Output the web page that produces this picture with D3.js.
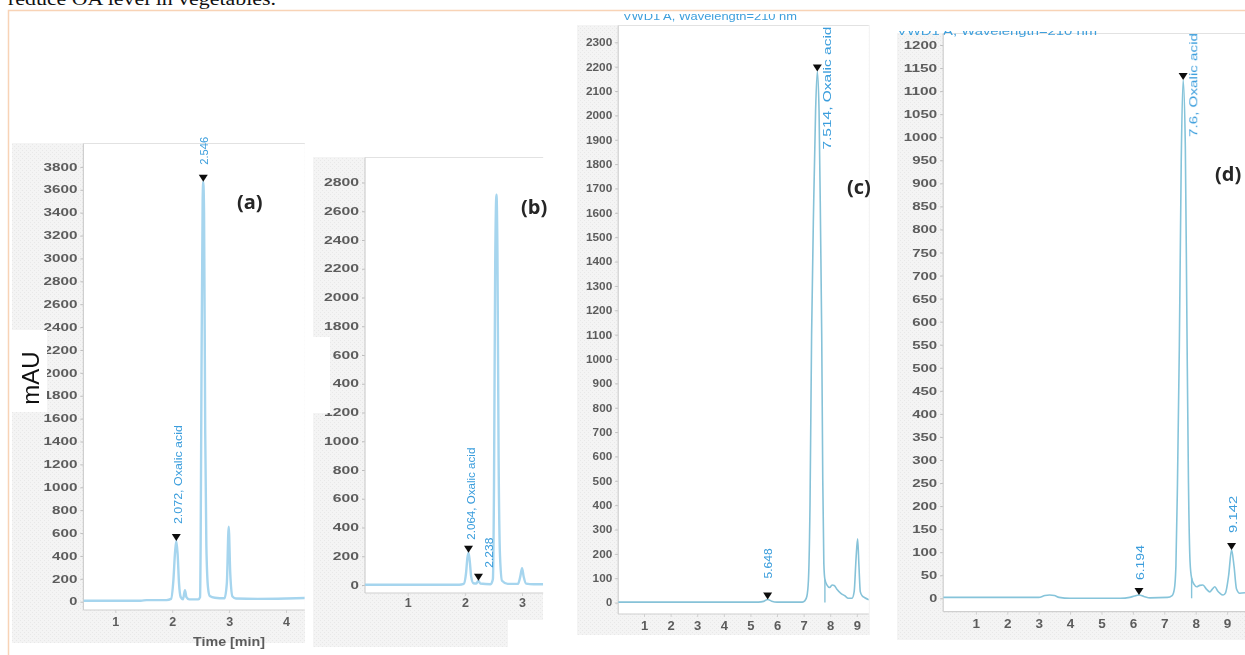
<!DOCTYPE html>
<html>
<head>
<meta charset="utf-8">
<script src="https://cdn.jsdelivr.net/npm/d3@7"></script>
<style>
  html, body { margin: 0; padding: 0; background: #fff; }
  svg { display: block; }
</style>
</head>
<body>
<svg id="fig" width="1245" height="655"></svg>
<script>
// ---------- Chromatogram traces: [retention time (min), absorbance (mAU)] ----------
const traceA = [
  [0.44, 8], [1.0, 8], [1.45, 8], [1.55, 14], [1.9, 14], [1.98, 25], [2.02, 180], [2.05, 430],
  [2.072, 530], [2.095, 420], [2.12, 160], [2.15, 40], [2.19, 22], [2.225, 100], [2.25, 40],
  [2.3, 20], [2.46, 20], [2.49, 40], [2.50, 500], [2.515, 2000], [2.535, 3500], [2.546, 3670],
  [2.56, 3400], [2.58, 1500], [2.6, 500], [2.63, 120], [2.66, 50], [2.75, 35], [2.92, 30],
  [2.96, 160], [2.993, 655], [3.02, 250], [3.06, 45], [3.12, 28], [3.5, 25], [4.0, 28], [4.33, 32]
];
const traceB = [
  [0.254, 2], [1.9, 2], [1.98, 8], [2.02, 80], [2.045, 190], [2.064, 225], [2.085, 170],
  [2.11, 60], [2.15, 12], [2.2, 10], [2.238, 30], [2.27, 10], [2.45, 5], [2.49, 40],
  [2.51, 700], [2.53, 2200], [2.553, 2715], [2.57, 2300], [2.59, 900], [2.615, 200],
  [2.65, 30], [2.75, 8], [2.93, 8], [2.97, 60], [3.0, 117], [3.03, 55], [3.07, 10],
  [3.2, 5], [3.37, 5]
];
const traceC = [
  [0.03, 2], [2.0, 2], [5.3, 2], [5.5, 5], [5.648, 13], [5.8, 6], [6.0, 2], [6.95, 2],
  [7.05, 8], [7.12, 25], [7.18, 90], [7.24, 400], [7.3, 1100], [7.38, 1650], [7.45, 2020],
  [7.514, 2180], [7.58, 2020], [7.64, 1500], [7.68, 1100], [7.72, 500], [7.76, 160],
  [7.8, 95], [7.88, 72], [7.98, 62], [8.07, 72], [8.15, 70], [8.25, 55], [8.4, 38],
  [8.55, 28], [8.68, 18], [8.82, 18], [8.9, 45], [8.97, 180], [9.03, 262], [9.08, 150],
  [9.13, 45], [9.2, 28], [9.3, 20], [9.45, 12]
];
const traceD = [
  [-0.04, 2], [1.0, 2], [3.0, 2], [3.2, 6], [3.35, 7], [3.5, 6], [3.65, 2], [4.0, 0],
  [5.6, 0], [5.9, 2], [6.05, 5], [6.194, 7], [6.35, 4], [6.55, 1], [7.1, 2], [7.25, 6],
  [7.32, 20], [7.37, 70], [7.42, 250], [7.48, 550], [7.54, 950], [7.6, 1124], [7.67, 980],
  [7.72, 600], [7.77, 250], [7.82, 80], [7.87, 44], [7.95, 30], [8.03, 25], [8.13, 28],
  [8.23, 29], [8.34, 20], [8.45, 14], [8.53, 20], [8.61, 25], [8.7, 16], [8.77, 11],
  [8.87, 7], [8.95, 12], [9.05, 50], [9.142, 105], [9.22, 70], [9.3, 20], [9.4, 11],
  [9.57, 12]
];

// ---------- Integrated peaks (retention time and annotation) ----------
const peaksA = [{ t: 2.072, text: "2.072, Oxalic acid" }, { t: 2.546, text: "2.546" }];
const peaksB = [{ t: 2.064, text: "2.064, Oxalic acid" }, { t: 2.238, text: "2.238" }];
const peaksC = [{ t: 5.648, text: "5.648" }, { t: 7.514, text: "7.514, Oxalic acid" }];
const peaksD = [{ t: 6.194, text: "6.194" }, { t: 7.6, text: "7.6, Oxalic acid" }, { t: 9.142, text: "9.142" }];

// Integration drop lines (min)
const dropsC = [7.8];
const dropsD = [7.87];

// ---------- Axis ticks ----------
const yTicksA = [0, 200, 400, 600, 800, 1000, 1200, 1400, 1600, 1800, 2000, 2200, 2400, 2600, 2800, 3000, 3200, 3400, 3600, 3800];
const yTicksB = [0, 200, 400, 600, 800, 1000, 1200, 1400, 1600, 1800, 2000, 2200, 2400, 2600, 2800];
const yTickLabelsB = ["0", "200", "400", "600", "800", "1000", "1200", "400", "600", "1800", "2000", "2200", "2400", "2600", "2800"];
const yTicksC = [0, 100, 200, 300, 400, 500, 600, 700, 800, 900, 1000, 1100, 1200, 1300, 1400, 1500, 1600, 1700, 1800, 1900, 2000, 2100, 2200, 2300];
const yTicksD = [0, 50, 100, 150, 200, 250, 300, 350, 400, 450, 500, 550, 600, 650, 700, 750, 800, 850, 900, 950, 1000, 1050, 1100, 1150, 1200];
const xTicksA = [1, 2, 3, 4];
const xTicksB = [1, 2, 3];
const xTicksC = [1, 2, 3, 4, 5, 6, 7, 8, 9];
const xTicksD = [1, 2, 3, 4, 5, 6, 7, 8, 9];

const panelNames = ["(a)", "(b)", "(c)", "(d)"];
const yAxisTitle = "mAU";
const xAxisTitleA = "Time [min]";
const signalTitle = "VWD1 A, Wavelength=210 nm";
const captionTail = "reduce OA level in vegetables.";

// ---------- Drawing ----------
const svg = d3.select("#fig");
const defs = svg.append("defs");
defs.append("filter").attr("id", "soft")
  .attr("x", "-5%").attr("y", "-5%").attr("width", "110%").attr("height", "110%")
  .append("feGaussianBlur").attr("stdDeviation", 0.45);

const pat = defs.append("pattern").attr("id", "hatch")
  .attr("width", 4).attr("height", 4).attr("patternUnits", "userSpaceOnUse");
pat.append("rect").attr("width", 4).attr("height", 4).attr("fill", "#f4f4f4");
pat.append("rect").attr("x", 0).attr("y", 0).attr("width", 1).attr("height", 1).attr("fill", "#e8e8e8");
pat.append("rect").attr("x", 2).attr("y", 2).attr("width", 1).attr("height", 1).attr("fill", "#e8e8e8");

// Page frame and the running text above the figure
svg.append("text").attr("x", 8).attr("y", 5)
  .attr("font-family", "Liberation Serif, serif").attr("font-size", 18)
  .attr("textLength", 268).attr("lengthAdjust", "spacingAndGlyphs")
  .attr("fill", "#111").text(captionTail);
svg.append("path").attr("d", "M8.5,655 L8.5,10.5 L1245,10.5")
  .attr("fill", "none").attr("stroke", "#f8d3b6").attr("stroke-width", 1.5);

const panels = [
  {
    trace: traceA, peaks: peaksA, drops: [], yTicks: yTicksA, yLabels: null, xTicks: xTicksA,
    xDom: [0.44, 4.33], xRng: [83.4, 304.8], yDom: [0, 3800], yRng: [601.7, 166.9],
    top: 143.5, axisY: 610, bg: [[12, 143, 293, 500]], covers: [[12, 330, 35, 82]],
    lineColor: "#a6d5ee", lineWidth: 2.4, yFont: 10, yCharW: 8.6, xFont: 12.5, xLabelY: 626,
    labelFont: 10.5,
    labelLayout: [{ dx: 2, gap: 10, len: 99 }, { dx: 0.7, gap: 10, len: 28 }],
    name: { x: 237, y: 209 }
  },
  {
    trace: traceB, peaks: peaksB, drops: [], yTicks: yTicksB, yLabels: yTickLabelsB, xTicks: xTicksB,
    xDom: [0.254, 3.37], xRng: [365, 543.2], yDom: [0, 2800], yRng: [585, 182.5],
    top: 157.5, axisY: 593, bg: [[313, 157, 230, 463], [313, 618, 195, 29]], covers: [[306, 337, 24, 76]],
    lineColor: "#a6d5ee", lineWidth: 2.4, yFont: 10, yCharW: 8.9, xFont: 12.5, xLabelY: 607,
    labelFont: 10,
    labelLayout: [{ dx: 2.5, gap: 6, len: 92 }, { dx: 11, gap: 6, len: 30 }],
    name: { x: 521, y: 214 }
  },
  {
    trace: traceC, peaks: peaksC, drops: dropsC, yTicks: yTicksC, yLabels: null, xTicks: xTicksC,
    xDom: [0.03, 9.45], xRng: [618.2, 868.8], yDom: [0, 2300], yRng: [602.6, 42.3],
    top: 25.5, axisY: 614, bg: [[577, 25, 293, 610]], covers: [],
    lineColor: "#86c2d8", lineWidth: 1.6, yFont: 10.5, yCharW: 6.7, xFont: 13, xLabelY: 630,
    labelFont: 11.5,
    labelLayout: [{ dx: 0.7, gap: 14, len: 30 }, { dx: 9.4, gap: -85, len: 123 }],
    name: { x: 847, y: 194 },
    title: { x: 623, y: 19.5, clip: [600, 14, 270, 10], len: 174 }
  },
  {
    trace: traceD, peaks: peaksD, drops: dropsD, yTicks: yTicksD, yLabels: null, xTicks: xTicksD,
    xDom: [-0.04, 9.57], xRng: [943.2, 1245], yDom: [0, 1200], yRng: [598.3, 45],
    top: 33.5, axisY: 611.7, bg: [[897, 33, 348, 607]], covers: [],
    lineColor: "#86c4da", lineWidth: 1.6, yFont: 11, yCharW: 8.5, xFont: 13.5, xLabelY: 628,
    labelFont: 11.5,
    labelLayout: [{ dx: 1, gap: 8, len: 35 }, { dx: 10, gap: -64, len: 104 }, { dx: 1.7, gap: 10, len: 37 }],
    name: { x: 1215, y: 181 },
    title: { x: 897, y: 35, clip: [897, 31, 348, 6], len: 200 }
  }
];

panels.forEach((p, i) => {
  const x = d3.scaleLinear().domain(p.xDom).range(p.xRng);
  const y = d3.scaleLinear().domain(p.yDom).range(p.yRng);
  const left = p.xRng[0], right = p.xRng[1];

  const g = svg.append("g").attr("class", "panel");

  // grey software frame around the plotting area
  p.bg.forEach(r => g.append("rect").attr("x", r[0]).attr("y", r[1])
    .attr("width", r[2]).attr("height", r[3]).attr("fill", "url(#hatch)"));
  g.append("rect").attr("x", left).attr("y", p.top)
    .attr("width", right - left).attr("height", p.axisY - p.top).attr("fill", "#ffffff");
  g.append("line").attr("x1", left).attr("x2", right).attr("y1", p.top).attr("y2", p.top)
    .attr("stroke", "#e2e2e2").attr("stroke-width", 1);

  // signal title above the plot, trimmed by the frame
  if (p.title) {
    const cid = "tclip" + i;
    defs.append("clipPath").attr("id", cid).append("rect")
      .attr("x", p.title.clip[0]).attr("y", p.title.clip[1])
      .attr("width", p.title.clip[2]).attr("height", p.title.clip[3]);
    g.append("text").attr("clip-path", `url(#${cid})`)
      .attr("x", p.title.x).attr("y", p.title.y)
      .attr("font-family", "Liberation Sans, Arial, sans-serif").attr("font-size", 11)
      .attr("textLength", p.title.len).attr("lengthAdjust", "spacingAndGlyphs")
      .attr("fill", "#3d9fdc").text(signalTitle);
  }

  const soft = g.append("g").attr("filter", "url(#soft)");

  // axes
  const yAxis = d3.axisLeft(y).tickValues(p.yTicks).tickSize(3).tickPadding(3)
    .tickFormat((d, k) => p.yLabels ? p.yLabels[k] : String(d));
  const ya = soft.append("g").attr("transform", `translate(${left},0)`).call(yAxis);
  ya.select(".domain").remove();
  ya.selectAll(".tick line").attr("stroke", "#bdbdbd");
  ya.selectAll(".tick text")
    .attr("font-family", "Liberation Sans, Arial, sans-serif").attr("font-size", p.yFont)
    .attr("font-weight", "bold").attr("fill", "#5c5c5c")
    .each(function () {
      const s = d3.select(this);
      s.attr("textLength", s.text().length * p.yCharW - 0.5).attr("lengthAdjust", "spacingAndGlyphs");
    });
  soft.append("line").attr("x1", left).attr("x2", left).attr("y1", p.top).attr("y2", p.axisY)
    .attr("stroke", "#cfcfcf").attr("stroke-width", 1.2);

  const xAxis = d3.axisBottom(x).tickValues(p.xTicks).tickSize(3).tickFormat(d3.format("d"));
  const xa = soft.append("g").attr("transform", `translate(0,${p.axisY})`).call(xAxis);
  xa.select(".domain").remove();
  xa.selectAll(".tick line").attr("stroke", "#cfcfcf");
  xa.selectAll(".tick text")
    .attr("y", p.xLabelY - p.axisY).attr("dy", 0)
    .attr("font-family", "Liberation Sans, Arial, sans-serif").attr("font-size", p.xFont)
    .attr("font-weight", "bold").attr("fill", "#5c5c5c");
  soft.append("line").attr("x1", left).attr("x2", right).attr("y1", p.axisY).attr("y2", p.axisY)
    .attr("stroke", "#cfcfcf").attr("stroke-width", 1.2);

  // chromatogram trace
  const cid = "pclip" + i;
  defs.append("clipPath").attr("id", cid).append("rect")
    .attr("x", left).attr("y", p.top).attr("width", right - left).attr("height", p.axisY - p.top);
  const line = d3.line().x(d => x(d[0])).y(d => y(d[1])).curve(d3.curveMonotoneX);
  soft.append("path").datum(p.trace).attr("clip-path", `url(#${cid})`)
    .attr("d", line).attr("fill", "none")
    .attr("stroke", p.lineColor).attr("stroke-width", p.lineWidth).attr("stroke-linejoin", "round");

  // integration drop lines
  const valueAt = t => {
    const k = p.trace.findIndex(d => d[0] >= t);
    const a = p.trace[k - 1], b = p.trace[k];
    return a[1] + (b[1] - a[1]) * (t - a[0]) / (b[0] - a[0]);
  };
  p.drops.forEach(t => soft.append("line")
    .attr("x1", x(t)).attr("x2", x(t)).attr("y1", y(0)).attr("y2", y(valueAt(t)))
    .attr("stroke", p.lineColor).attr("stroke-width", 1.4));

  // peak markers and rotated retention-time labels
  p.peaks.forEach((pk, k) => {
    const apex = p.trace.find(d => d[0] === pk.t);
    const px = x(pk.t), py = y(apex[1]);
    const lay = p.labelLayout[k];
    soft.append("path")
      .attr("d", d3.line()([[px - 4.5, py - 7], [px + 4.5, py - 7], [px, py]]) + "Z")
      .attr("fill", "#111");
    const ly = py - 7 - lay.gap;
    soft.append("text")
      .attr("transform", `translate(${px + lay.dx + p.labelFont * 0.36},${ly}) rotate(-90)`)
      .attr("font-family", "Liberation Sans, Arial, sans-serif").attr("font-size", p.labelFont)
      .attr("textLength", lay.len).attr("lengthAdjust", "spacingAndGlyphs")
      .attr("fill", "#3a9ddc").text(pk.text);
  });

  // white patches over the frame
  p.covers.forEach(r => g.append("rect").attr("x", r[0]).attr("y", r[1])
    .attr("width", r[2]).attr("height", r[3]).attr("fill", "#ffffff"));

  // panel letter
  svg.append("text").attr("x", p.name.x).attr("y", p.name.y)
    .attr("font-family", "Open Sans, Liberation Sans, sans-serif").attr("font-size", 20)
    .attr("font-weight", "bold").attr("fill", "#262626").text(panelNames[i]);
});

// axis titles of panel (a)
svg.append("text").attr("transform", "translate(39,378) rotate(-90)")
  .attr("text-anchor", "middle").attr("font-family", "Liberation Sans, Arial, sans-serif")
  .attr("font-size", 24).attr("fill", "#111").text(yAxisTitle);
svg.append("text").attr("x", 229).attr("y", 646).attr("text-anchor", "middle")
  .attr("filter", "url(#soft)")
  .attr("font-family", "Liberation Sans, Arial, sans-serif").attr("font-size", 12)
  .attr("font-weight", "bold").attr("textLength", 72).attr("lengthAdjust", "spacingAndGlyphs")
  .attr("fill", "#5c5c5c").text(xAxisTitleA);
</script>
</body>
</html>
